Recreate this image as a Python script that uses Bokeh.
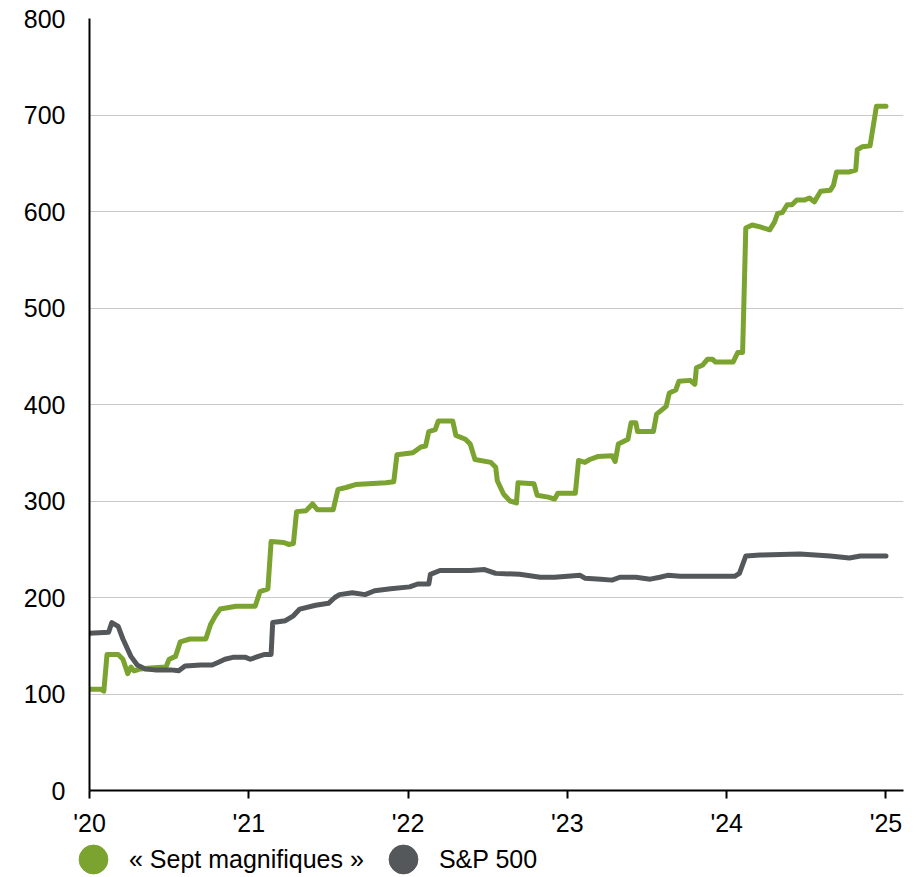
from bokeh.plotting import figure
from bokeh.layouts import column
from bokeh.models import FixedTicker, Legend, LegendItem, Range1d
from bokeh.embed import file_html
from bokeh.resources import INLINE

# ---- data (decimal years, index values) ----
mag7_x = [2020.00, 2020.07, 2020.09, 2020.11, 2020.18, 2020.21, 2020.24, 2020.26, 2020.28, 2020.32,
          2020.38, 2020.48, 2020.50, 2020.54, 2020.57, 2020.63, 2020.73, 2020.76, 2020.79, 2020.82,
          2020.92, 2021.04, 2021.07, 2021.12, 2021.14, 2021.22, 2021.25, 2021.28, 2021.30, 2021.36,
          2021.40, 2021.43, 2021.53, 2021.56, 2021.61, 2021.67, 2021.86, 2021.91, 2021.93, 2022.03,
          2022.08, 2022.11, 2022.13, 2022.17, 2022.19, 2022.28, 2022.30, 2022.36, 2022.39, 2022.42,
          2022.52, 2022.55, 2022.56, 2022.60, 2022.64, 2022.68, 2022.69, 2022.79, 2022.81, 2022.88,
          2022.92, 2022.94, 2023.05, 2023.07, 2023.11, 2023.14, 2023.19, 2023.28, 2023.30, 2023.32,
          2023.38, 2023.40, 2023.43, 2023.44, 2023.54, 2023.56, 2023.62, 2023.64, 2023.68, 2023.70,
          2023.77, 2023.80, 2023.81, 2023.85, 2023.88, 2023.91, 2023.93, 2024.04, 2024.07, 2024.10,
          2024.12, 2024.16, 2024.21, 2024.27, 2024.30, 2024.32, 2024.35, 2024.38, 2024.41, 2024.44,
          2024.49, 2024.52, 2024.55, 2024.59, 2024.65, 2024.67, 2024.69, 2024.77, 2024.81, 2024.82,
          2024.85, 2024.90, 2024.94, 2025.00]
mag7_y = [105, 105, 103, 141, 141, 136, 121, 128, 124, 126,
          127, 128, 136, 139, 154, 157, 157, 172, 181, 188,
          191, 191, 206, 209, 258, 257, 255, 256, 289, 290,
          297, 291, 291, 312, 314, 317, 319, 320, 348, 350,
          356, 357, 372, 374, 383, 383, 368, 364, 359, 343,
          340, 335, 321, 307, 300, 298, 319, 318, 306, 304,
          302, 308, 308, 342, 340, 343, 346, 347, 341, 359,
          364, 381, 381, 372, 372, 390, 398, 412, 415, 424,
          425, 421, 438, 441, 447, 447, 444, 444, 454, 454,
          583, 586, 584, 581, 589, 598, 599, 607, 607, 612,
          612, 614, 610, 621, 622, 627, 641, 641, 643, 664,
          667, 668, 709, 709]

sp_x = [2020.00, 2020.12, 2020.14, 2020.18, 2020.21, 2020.26, 2020.30, 2020.35, 2020.41, 2020.51,
        2020.56, 2020.60, 2020.70, 2020.77, 2020.81, 2020.85, 2020.90, 2020.98, 2021.01, 2021.06,
        2021.10, 2021.14, 2021.15, 2021.23, 2021.28, 2021.32, 2021.42, 2021.50, 2021.54, 2021.57,
        2021.65, 2021.73, 2021.79, 2021.89, 2022.01, 2022.06, 2022.13, 2022.14, 2022.20, 2022.39,
        2022.48, 2022.55, 2022.70, 2022.83, 2022.92, 2023.08, 2023.11, 2023.21, 2023.28, 2023.33,
        2023.43, 2023.52, 2023.58, 2023.63, 2023.71, 2023.80, 2024.05, 2024.08, 2024.12, 2024.21,
        2024.46, 2024.65, 2024.77, 2024.84, 2025.00]
sp_y = [163, 164, 174, 170, 157, 139, 130, 126, 125, 125,
        124, 129, 130, 130, 133, 136, 138, 138, 136, 139,
        141, 141, 174, 176, 181, 188, 192, 194, 200, 203,
        205, 203, 207, 209, 211, 214, 214, 224, 228, 228,
        229, 225, 224, 221, 221, 223, 220, 219, 218, 221,
        221, 219, 221, 223, 222, 222, 222, 225, 243, 244,
        245, 243, 241, 243, 243]

year_ticks = [2020, 2021, 2022, 2023, 2024, 2025]
year_labels = ["'20", "'21", "'22", "'23", "'24", "'25"]
y_ticks = [0, 100, 200, 300, 400, 500, 600, 700, 800]

series_names = ["\u00ab Sept magnifiques \u00bb", "S&P 500"]
GREEN = "#7ba32f"
GREY = "#55585b"
FONT = "Liberation Sans"

p = figure(width=913, height=840, output_backend="svg", toolbar_location=None,
           x_range=Range1d(2020, 2025.11), y_range=Range1d(0, 800),
           min_border_left=89, min_border_right=10, min_border_top=18, min_border_bottom=50)
p.outline_line_color = None
p.background_fill_color = "white"
p.border_fill_color = "white"

p.line(mag7_x, mag7_y, line_color=GREEN, line_width=5, line_join="round", line_cap="round")
p.line(sp_x, sp_y, line_color=GREY, line_width=5, line_join="round", line_cap="round")

# axes
xa = p.xaxis[0]
xa.ticker = FixedTicker(ticks=year_ticks)
xa.major_label_overrides = {t: lab for t, lab in zip(year_ticks, year_labels)}
xa.axis_line_color = "black"
xa.axis_line_width = 2
xa.major_tick_line_color = "black"
xa.major_tick_line_width = 2
xa.major_tick_out = 8
xa.major_tick_in = 0
xa.minor_tick_line_color = None
xa.major_label_text_font = FONT
xa.major_label_text_font_size = "25px"
xa.major_label_text_color = "black"
xa.major_label_standoff = 10

ya = p.yaxis[0]
ya.ticker = FixedTicker(ticks=y_ticks)
ya.axis_line_color = "black"
ya.axis_line_width = 2
ya.major_tick_line_color = None
ya.major_tick_out = 0
ya.major_tick_in = 0
ya.minor_tick_line_color = None
ya.major_label_text_font = FONT
ya.major_label_text_font_size = "25px"
ya.major_label_text_color = "black"
ya.major_label_standoff = 24

p.xgrid.grid_line_color = None
p.ygrid.grid_line_color = "#c9c9c9"
p.ygrid.grid_line_width = 1
p.ygrid.ticker = FixedTicker(ticks=y_ticks[1:])

# ---- legend strip below the chart ----
leg = figure(width=913, height=37, output_backend="svg", toolbar_location=None,
             x_range=Range1d(0, 1), y_range=Range1d(0, 1),
             x_axis_location=None, y_axis_location=None,
             min_border_left=0, min_border_right=0, min_border_top=0, min_border_bottom=0)
leg.outline_line_color = None
leg.xgrid.visible = False
leg.ygrid.visible = False
if hasattr(leg, "frame_align"):
    leg.frame_align = False
    p.frame_align = False
d1 = leg.scatter([-5], [-5], marker="circle", color=GREEN, size=10)
d2 = leg.scatter([-5], [-5], marker="circle", color=GREY, size=10)

legend = Legend(items=[LegendItem(label=series_names[0], renderers=[d1]),
                       LegendItem(label=series_names[1], renderers=[d2])],
                orientation="horizontal", location=(57, -18),
                glyph_width=72, glyph_height=72, label_standoff=0, spacing=3,
                padding=0, margin=0, border_line_color=None, background_fill_alpha=0,
                label_text_font=FONT, label_text_font_size="25px", label_text_color="black")
leg.add_layout(legend, "center")

layout = column(p, leg, spacing=0)
open("out.html", "w").write(file_html(layout, INLINE))
